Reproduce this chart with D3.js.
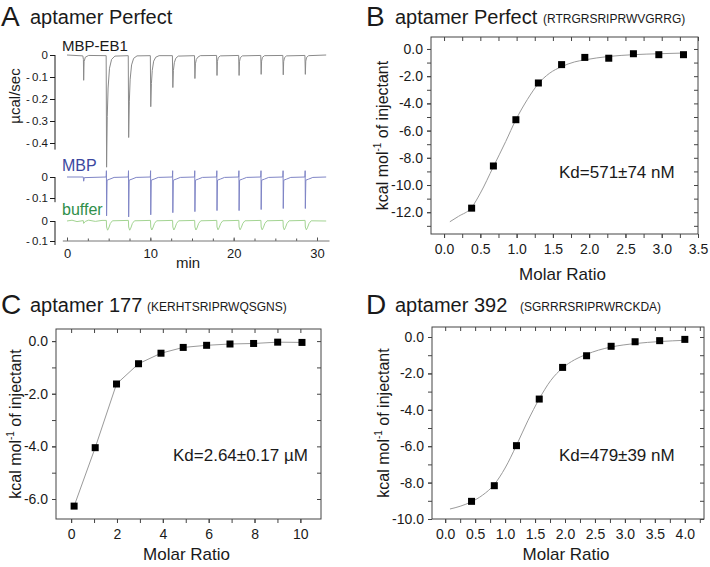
<!DOCTYPE html>
<html>
<head>
<meta charset="utf-8">
<script src="https://cdn.jsdelivr.net/npm/d3@7"></script>
<style>
  body { margin: 0; background: #fff; }
  svg { display: block; }
  text { font-family: "Liberation Sans", Arial, Helvetica, sans-serif; fill: #1a1a1a; }
</style>
</head>
<body>
<svg id="fig" width="710" height="567"></svg>
<script>
// ---------- panel A: raw ITC thermograms, [time (min), heat rate (µcal/sec)]
const eb1Trace = [
  [0,0],[1.9,-0.004],[1.97,-0.02],[2.0,-0.115],[2.05,-0.03],[2.2,-0.01],[2.6,-0.002],
  [4.7,-0.003],[4.75,-0.51],[4.83,-0.28],[4.93,-0.15],[5.1,-0.06],[5.35,-0.02],[5.75,-0.005],
  [7.35,-0.003],[7.4,-0.375],[7.48,-0.21],[7.58,-0.11],[7.75,-0.045],[8.0,-0.015],[8.4,-0.004],
  [10.0,-0.003],[10.05,-0.235],[10.13,-0.13],[10.23,-0.07],[10.4,-0.028],[10.65,-0.01],[11.05,-0.003],
  [12.65,-0.003],[12.7,-0.148],[12.77,-0.07],[12.88,-0.035],[13.05,-0.015],[13.35,-0.005],
  [15.3,-0.003],[15.35,-0.107],[15.41,-0.04],[15.52,-0.02],[15.7,-0.01],[16.0,-0.003],
  [17.95,-0.002],[18.0,-0.093],[18.05,-0.03],[18.15,-0.012],[18.4,-0.004],
  [20.6,-0.002],[20.65,-0.093],[20.7,-0.03],[20.8,-0.012],[21.05,-0.004],
  [23.25,-0.002],[23.3,-0.088],[23.35,-0.028],[23.45,-0.011],[23.7,-0.003],
  [25.9,-0.002],[25.95,-0.09],[26.0,-0.03],[26.1,-0.012],[26.35,-0.004],
  [28.55,-0.002],[28.6,-0.088],[28.65,-0.028],[28.75,-0.011],[29.0,-0.003],
  [31.1,0]
];
const mbpTrace = [
  [0,0],[1.95,0],[2.0,-0.02],[2.08,-0.003],
  [4.7,0],[4.73,0.03],[4.75,-0.185],[4.81,-0.015],[5.15,-0.01],[5.65,-0.002],
  [7.35,0],[7.38,0.03],[7.4,-0.19],[7.46,-0.015],[7.8,-0.01],[8.3,-0.002],
  [10.0,0],[10.03,0.03],[10.05,-0.18],[10.11,-0.015],[10.45,-0.01],[10.95,-0.002],
  [12.65,0],[12.68,0.03],[12.7,-0.17],[12.76,-0.015],[13.1,-0.01],[13.6,-0.002],
  [15.3,0],[15.33,0.03],[15.35,-0.165],[15.41,-0.015],[15.75,-0.01],[16.25,-0.002],
  [17.95,0],[17.98,0.03],[18.0,-0.16],[18.06,-0.015],[18.4,-0.01],[18.9,-0.002],
  [20.6,0],[20.63,0.03],[20.65,-0.16],[20.71,-0.015],[21.05,-0.01],[21.55,-0.002],
  [23.25,0],[23.28,0.03],[23.3,-0.155],[23.36,-0.015],[23.7,-0.01],[24.2,-0.002],
  [25.9,0],[25.93,0.03],[25.95,-0.15],[26.01,-0.015],[26.35,-0.01],[26.85,-0.002],
  [28.55,0],[28.58,0.03],[28.6,-0.15],[28.66,-0.015],[29.0,-0.01],[29.5,-0.002],
  [31.1,0]
];
const bufferTrace = [
  [0,0],[0.6,0.004],[1.2,-0.003],[1.95,0.002],[2.0,-0.012],[2.2,-0.002],[2.6,0.004],[3.4,-0.002],[4.2,0.003],
  [4.72,0.003],[4.75,-0.03],[4.87,-0.046],[5.0,-0.036],[5.2,-0.012],[5.45,0.001],
  [7.37,0.003],[7.4,-0.03],[7.52,-0.046],[7.65,-0.036],[7.85,-0.012],[8.1,0.001],
  [10.02,0.003],[10.05,-0.03],[10.17,-0.045],[10.3,-0.035],[10.5,-0.012],[10.75,0.001],
  [12.67,0.003],[12.7,-0.03],[12.82,-0.045],[12.95,-0.035],[13.15,-0.012],[13.4,0.001],
  [15.32,0.003],[15.35,-0.03],[15.47,-0.045],[15.6,-0.035],[15.8,-0.012],[16.05,0.001],
  [17.97,0.003],[18.0,-0.03],[18.12,-0.044],[18.25,-0.034],[18.45,-0.012],[18.7,0.001],
  [20.62,0.003],[20.65,-0.03],[20.77,-0.044],[20.9,-0.034],[21.1,-0.012],[21.35,0.001],
  [23.27,0.003],[23.3,-0.03],[23.42,-0.044],[23.55,-0.034],[23.75,-0.012],[24.0,0.001],
  [25.92,0.003],[25.95,-0.03],[26.07,-0.044],[26.2,-0.034],[26.4,-0.012],[26.65,0.001],
  [28.57,0.003],[28.6,-0.03],[28.72,-0.044],[28.85,-0.034],[29.05,-0.012],[29.3,0.001],
  [31.1,0]
];
const minTicks = [0, 10, 20, 30];
const minMinorTicks = d3.range(0, 31, 2.5);
const eb1Ticks = [0, -0.1, -0.2, -0.3, -0.4];
const smallTicks = [0, -0.1];

// ---------- panel B: aptamer Perfect
const bRatio = [0.38, 0.68, 0.99, 1.30, 1.62, 1.94, 2.27, 2.61, 2.96, 3.30];
const bHeat = [-11.7, -8.6, -5.2, -2.5, -1.15, -0.62, -0.68, -0.35, -0.42, -0.42];
const bFitRatio = [0.08, 0.2, 0.38, 0.5, 0.68, 0.85, 0.99, 1.15, 1.30, 1.45, 1.62, 1.8, 1.94, 2.27, 2.61, 2.96, 3.30];
const bFitHeat = [-12.7, -12.3, -11.65, -10.6, -8.65, -6.8, -5.2, -3.7, -2.55, -1.8, -1.3, -0.95, -0.8, -0.55, -0.42, -0.35, -0.3];

// ---------- panel C: aptamer 177
const cRatio = [0.13, 1.05, 1.98, 2.94, 3.92, 4.89, 5.91, 6.93, 7.96, 9.01, 10.07];
const cHeat = [-6.27, -4.05, -1.63, -0.86, -0.46, -0.24, -0.16, -0.11, -0.09, -0.04, -0.05];

// ---------- panel D: aptamer 392
const dRatio = [0.44, 0.82, 1.19, 1.57, 1.96, 2.36, 2.77, 3.17, 3.58, 4.0];
const dHeat = [-9.03, -8.17, -5.97, -3.41, -1.67, -1.03, -0.51, -0.26, -0.2, -0.13];
const dFitRatio = [0.08, 0.25, 0.44, 0.62, 0.82, 1.0, 1.19, 1.38, 1.57, 1.76, 1.96, 2.16, 2.36, 2.56, 2.77, 3.17, 3.58, 4.0];
const dFitHeat = [-9.45, -9.3, -9.05, -8.7, -8.1, -7.2, -5.95, -4.6, -3.4, -2.4, -1.7, -1.25, -0.95, -0.72, -0.55, -0.36, -0.25, -0.18];

const svg = d3.select("#fig");
const ink = "#1a1a1a";
const frameColor = "#444";

function title(x, y, letter, name, seq, seqX) {
    svg.append("text").attr("x", x).attr("y", y + 1).attr("font-size", 28).text(letter);
    svg.append("text").attr("x", x + 29).attr("y", y - 1).attr("font-size", 20).text(name);
    if (seq) svg.append("text").attr("x", seqX).attr("y", y - 2).attr("font-size", 12).text(seq);
}

// ================= panel A =================
title(1, 25, "A", "aptamer Perfect");

const xA = d3.scaleLinear().domain([0, 30]).range([67, 317]);
const traces = [
    {data: eb1Trace, y: d3.scaleLinear().domain([0, -0.4]).range([55, 143]), ticks: eb1Ticks, end: -0.43,
     color: "#8a8a8a", label: "MBP-EB1", labelColor: ink, labelY: 51, labelSize: 15},
    {data: mbpTrace, y: d3.scaleLinear().domain([0, -0.1]).range([177, 198]), ticks: smallTicks, end: -0.12,
     color: "#7f85c6", label: "MBP", labelColor: "#3c48a0", labelY: 171, labelSize: 16},
    {data: bufferTrace, y: d3.scaleLinear().domain([0, -0.1]).range([221, 241]), ticks: smallTicks, end: -0.12,
     color: "#a3d492", label: "buffer", labelColor: "#2f8f4a", labelY: 215, labelSize: 16}
];

traces.forEach(t => {
    const ax = svg.append("g").attr("transform", "translate(55,0)")
        .call(d3.axisLeft(t.y).tickValues(t.ticks).tickSize(5).tickPadding(2)
            .tickFormat(d => d === 0 ? "0" : "-\u2009" + Math.abs(d).toFixed(1)));
    ax.select(".domain").remove();
    ax.selectAll(".tick line").attr("stroke", ink);
    ax.selectAll("text").attr("font-size", 11.5).attr("fill", ink).attr("font-family", null);
    ax.append("line").attr("y1", t.y(0)).attr("y2", t.y(t.end)).attr("stroke", ink);

    svg.append("path").datum(t.data)
        .attr("fill", "none").attr("stroke", t.color).attr("stroke-width", 1)
        .attr("d", d3.line().x(d => xA(d[0])).y(d => t.y(d[1])));

    svg.append("text").attr("x", 62).attr("y", t.labelY).attr("font-size", t.labelSize)
        .style("fill", t.labelColor).text(t.label);
});

// time axis
const axisY = 241;
const gx = svg.append("g").attr("transform", `translate(0,${axisY})`);
gx.append("g").call(d3.axisBottom(xA).tickValues(minMinorTicks).tickSize(-2.5).tickFormat(""))
    .call(g => g.select(".domain").remove());
gx.append("g").call(d3.axisBottom(xA).tickValues(minTicks).tickSize(-3.5).tickPadding(8))
    .call(g => g.select(".domain").remove())
    .call(g => g.selectAll("text").attr("font-size", 13).attr("fill", ink).attr("font-family", null));
gx.selectAll(".tick line").attr("stroke", "#555");
gx.append("line").attr("x1", xA(-0.5)).attr("x2", xA(31.5)).attr("stroke", "#777");
svg.append("text").attr("x", 188).attr("y", 268).attr("font-size", 15).attr("text-anchor", "middle").text("min");
svg.append("text").attr("transform", "translate(20,96) rotate(-90)").attr("font-size", 15)
    .attr("text-anchor", "middle").text("µcal/sec");

// ================= ITC isotherm panels =================
function isotherm(o) {
    const x = d3.scaleLinear().domain(o.xDomain).range([o.left, o.right]);
    const y = d3.scaleLinear().domain(o.yDomain).range([o.bottom, o.top]);
    const g = svg.append("g");
    const fmtX = o.xFmt, fmtY = d => d.toFixed(1);

    const styleAxis = sel => {
        sel.select(".domain").remove();
        sel.selectAll(".tick line").attr("stroke", frameColor);
        sel.selectAll("text").attr("font-size", 14).attr("fill", "#2a2a2a").attr("font-family", null);
    };
    // left: outward ticks, labels on majors
    g.append("g").attr("transform", `translate(${o.left},0)`)
        .call(d3.axisLeft(y).tickValues(o.yMinor).tickSize(4).tickFormat("")).call(styleAxis);
    g.append("g").attr("transform", `translate(${o.left},0)`)
        .call(d3.axisLeft(y).tickValues(o.yMajor).tickSize(4).tickPadding(4).tickFormat(fmtY)).call(styleAxis);
    // right: inward ticks
    g.append("g").attr("transform", `translate(${o.right},0)`)
        .call(d3.axisRight(y).tickValues(o.yMinor).tickSize(-4).tickFormat("")).call(styleAxis);
    // bottom: outward ticks
    g.append("g").attr("transform", `translate(0,${o.bottom})`)
        .call(d3.axisBottom(x).tickValues(o.xMinor).tickSize(4).tickFormat("")).call(styleAxis);
    g.append("g").attr("transform", `translate(0,${o.bottom})`)
        .call(d3.axisBottom(x).tickValues(o.xMajor).tickSize(4).tickPadding(6).tickFormat(fmtX)).call(styleAxis);
    // top: inward ticks
    g.append("g").attr("transform", `translate(0,${o.top})`)
        .call(d3.axisTop(x).tickValues(o.xMinor).tickSize(-4).tickFormat("")).call(styleAxis);

    g.append("rect").attr("x", o.left).attr("y", o.top)
        .attr("width", o.right - o.left).attr("height", o.bottom - o.top)
        .attr("fill", "none").attr("stroke", frameColor).attr("stroke-width", 1);

    // fit / connecting line
    const line = d3.line().x(d => x(d[0])).y(d => y(d[1])).curve(o.curve);
    g.append("path").datum(d3.zip(o.fitX, o.fitY))
        .attr("fill", "none").attr("stroke", "#9a9a9a").attr("stroke-width", 1).attr("d", line);

    // data squares
    const s = 7;
    g.selectAll("rect.pt").data(d3.zip(o.ratio, o.heat)).join("rect").attr("class", "pt")
        .attr("x", d => x(d[0]) - s / 2).attr("y", d => y(d[1]) - s / 2)
        .attr("width", s).attr("height", s).attr("fill", "#000");

    // labels
    g.append("text").attr("x", (o.left + o.right) / 2 - 2).attr("y", o.bottom + o.xLabelGap)
        .attr("font-size", 17).attr("text-anchor", "middle").text("Molar Ratio");
    const yl = g.append("text")
        .attr("transform", `translate(${o.left - o.yLabelGap},${(o.top + o.bottom) / 2}) rotate(-90)`)
        .attr("font-size", 16).attr("text-anchor", "middle");
    yl.append("tspan").text("kcal mol");
    yl.append("tspan").attr("font-size", 10).attr("dy", -7).text("-1");
    yl.append("tspan").attr("dy", 7).text(" of injectant");

    g.append("text").attr("x", o.kdX).attr("y", o.kdY).attr("font-size", 17).text(o.kd);
}

title(366, 25, "B", "aptamer Perfect", "(RTRGRSRIPRWVGRRG)", 543);
isotherm({
    left: 431, right: 698, top: 37, bottom: 234,
    xDomain: [-0.18, 3.5], yDomain: [-13.6, 0.88],
    xMajor: d3.range(0, 3.51, 0.5), xMinor: d3.range(0, 3.51, 0.25),
    yMajor: d3.range(0, -12.1, -2), yMinor: d3.range(0, -13.1, -1),
    xFmt: d => d.toFixed(1), xLabelGap: 46, yLabelGap: 43,
    ratio: bRatio, heat: bHeat, fitX: bFitRatio, fitY: bFitHeat, curve: d3.curveMonotoneX,
    kd: "Kd=571±74 nM", kdX: 559, kdY: 178
});

title(1, 313, "C", "aptamer 177", "(KERHTSRIPRWQSGNS)", 147);
isotherm({
    left: 56, right: 321, top: 329, bottom: 519,
    xDomain: [-0.66, 10.9], yDomain: [-6.76, 0.46],
    xMajor: d3.range(0, 10.1, 2), xMinor: d3.range(0, 10.1, 1),
    yMajor: d3.range(0, -6.1, -2), yMinor: d3.range(0, -6.1, -1),
    xFmt: d => d.toFixed(0), xLabelGap: 41, yLabelGap: 35,
    ratio: cRatio, heat: cHeat, fitX: cRatio, fitY: cHeat, curve: d3.curveLinear,
    kd: "Kd=2.64±0.17 µM", kdX: 173, kdY: 461
});

title(366, 313, "D", "aptamer 392", "(SGRRRSRIPRWRCKDA)", 520);
isotherm({
    left: 432, right: 704, top: 327, bottom: 519,
    xDomain: [-0.22, 4.32], yDomain: [-10, 0.55],
    xMajor: d3.range(0, 4.01, 0.5), xMinor: d3.range(0, 4.26, 0.25),
    yMajor: d3.range(0, -10.1, -2), yMinor: d3.range(0, -10.1, -1),
    xFmt: d => d.toFixed(1), xLabelGap: 41, yLabelGap: 43,
    ratio: dRatio, heat: dHeat, fitX: dFitRatio, fitY: dFitHeat, curve: d3.curveMonotoneX,
    kd: "Kd=479±39 nM", kdX: 559, kdY: 461
});
</script>
</body>
</html>
